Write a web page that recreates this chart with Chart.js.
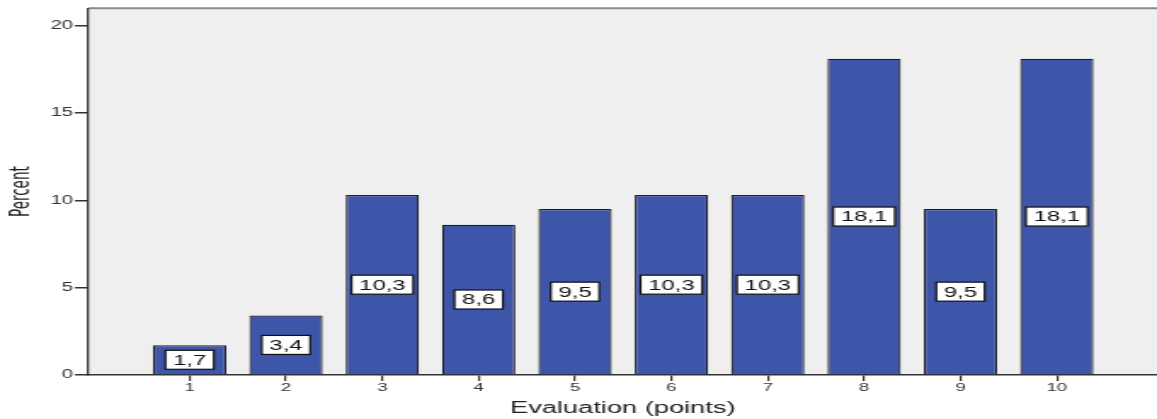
<!DOCTYPE html>
<html>
<head>
<meta charset="utf-8">
<script src="https://cdn.jsdelivr.net/npm/chart.js@4.4.0/dist/chart.umd.min.js"></script>
<style>
  html, body { margin: 0; padding: 0; background: #fff; }
  /* the canvas is drawn narrow and stretched sideways */
  #chart { display: block; }
</style>
</head>
<body>
<canvas id="chart" width="680" height="419" style="width:1157px;height:419px"></canvas>
<script>
const points = [1, 2, 3, 4, 5, 6, 7, 8, 9, 10];
const percent = [1.7, 3.4, 10.3, 8.6, 9.5, 10.3, 10.3, 18.1, 9.5, 18.1];
const yTicks = [0, 5, 10, 15, 20];

// grey plot background plus the thin top frame line
const plotBackground = {
    id: 'plotBackground',
    beforeDraw(chart) {
        const { ctx, chartArea: a } = chart;
        ctx.save();
        ctx.fillStyle = '#efefef';
        ctx.fillRect(a.left, a.top, a.right - a.left, a.bottom - a.top);
        ctx.strokeStyle = '#8a8a8a';
        ctx.lineWidth = 2;
        ctx.beginPath();
        ctx.moveTo(a.left, a.top);
        ctx.lineTo(a.right, a.top);
        ctx.stroke();
        ctx.restore();
    }
};

// white boxed value labels in the middle of each bar
const boxLabels = {
    id: 'boxLabels',
    afterDatasetsDraw(chart) {
        const { ctx } = chart;
        const meta = chart.getDatasetMeta(0);
        ctx.save();
        ctx.font = '14px "Liberation Sans"';
        ctx.textAlign = 'center';
        ctx.textBaseline = 'middle';
        meta.data.forEach((bar, i) => {
            const txt = percent[i].toFixed(1).replace('.', ',');
            const w = ctx.measureText(txt).width + 9;
            const h = 19;
            const cx = bar.x;
            const cy = (bar.y + bar.base) / 2;
            ctx.fillStyle = '#fff';
            ctx.fillRect(cx - w / 2, cy - h / 2, w, h);
            ctx.strokeStyle = '#111';
            ctx.lineWidth = 1.2;
            ctx.strokeRect(cx - w / 2, cy - h / 2, w, h);
            ctx.fillStyle = '#111';
            ctx.fillText(txt, cx, cy + 1);
        });
        ctx.restore();
    }
};

new Chart(document.getElementById('chart'), {
    type: 'bar',
    data: {
        datasets: [{
            data: points.map((p, i) => ({ x: p, y: percent[i] })),
            backgroundColor: '#3d56a9',
            borderColor: '#1e1e2a',
            borderWidth: 1.2,
            borderSkipped: 'bottom',
            barPercentage: 0.76,
            categoryPercentage: 1
        }]
    },
    options: {
        responsive: false,
        animation: false,
        devicePixelRatio: 1,
        layout: { padding: { top: 7, right: 0, left: 0, bottom: 0 } },
        plugins: {
            legend: { display: false },
            tooltip: { enabled: false }
        },
        scales: {
            x: {
                type: 'linear',
                min: -0.05,
                max: 11.04,
                offset: false,
                afterFit(scale) { scale.height = 44; },
                afterBuildTicks(scale) {
                    scale.ticks = points.map(v => ({ value: v }));
                },
                grid: {
                    offset: false,
                    drawOnChartArea: false,
                    drawTicks: true,
                    tickLength: 6,
                    color: '#333',
                    lineWidth: 1.2
                },
                border: { display: true, color: '#333', width: 1.5 },
                ticks: {
                    color: '#333',
                    padding: 0,
                    font: { family: 'Liberation Sans', size: 11 }
                },
                title: {
                    display: true,
                    text: 'Evaluation (points)',
                    color: '#222',
                    font: { family: 'Liberation Sans', size: 16 },
                    padding: { top: 0, bottom: 1 }
                }
            },
            y: {
                min: 0,
                max: 21,
                afterFit(scale) { scale.width = 52; },
                afterBuildTicks(scale) {
                    scale.ticks = yTicks.map(v => ({ value: v }));
                },
                grid: {
                    drawOnChartArea: false,
                    drawTicks: true,
                    tickLength: 8,
                    color: '#333',
                    lineWidth: 1.5
                },
                border: { display: true, color: '#333', width: 1.3 },
                ticks: {
                    color: '#333',
                    padding: 1,
                    font: { family: 'Liberation Sans', size: 12 }
                },
                title: {
                    display: true,
                    text: 'Percent',
                    color: '#222',
                    font: { family: '"Liberation Sans Narrow", "DejaVu Sans Condensed", "Liberation Sans"', size: 15 },
                    padding: { top: 4, bottom: 0 }
                }
            }
        }
    },
    plugins: [plotBackground, boxLabels]
});
</script>
</body>
</html>
